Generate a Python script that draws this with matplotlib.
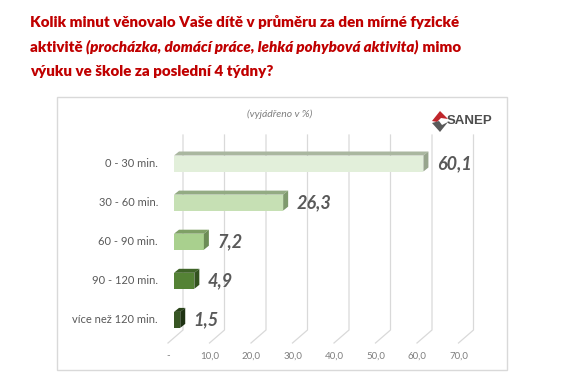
import numpy as np
import matplotlib.pyplot as plt
from matplotlib.patches import Rectangle, Polygon

# Data
categories = ["0 - 30 min.", "30 - 60 min.", "60 - 90 min.", "90 - 120 min.", "více než 120 min."]
values = [60.1, 26.3, 7.2, 4.9, 1.5]
value_labels = ["60,1", "26,3", "7,2", "4,9", "1,5"]
ticks = [0, 10, 20, 30, 40, 50, 60, 70]
tick_labels = ["-", "10,0", "20,0", "30,0", "40,0", "50,0", "60,0", "70,0"]

# Colours per bar: front, top, side
front_cols = ["#e2efda", "#c6e0b4", "#a9d08e", "#548235", "#375623"]
top_cols = ["#aab7a0", "#93ab83", "#7fa066", "#3f6428", "#2a4419"]
side_cols = ["#97a58d", "#7f9a6e", "#6c8c56", "#33531f", "#1f3313"]

W, H = 565, 386
fig = plt.figure(figsize=(W / 100, H / 100), dpi=100)
fig.patch.set_facecolor("white")
plt.rcParams['font.family'] = ['Lato', 'DejaVu Sans']

def fx(px):
    return px / W

def fy(py):
    return 1 - py / H

# Chart border
fig.add_artist(Rectangle((fx(57), fy(370)), fx(507) - fx(57), fy(97) - fy(370),
                         transform=fig.transFigure, fill=False, ec="#d9d9d9", lw=1))

# Title lines (mixed bold / bold italic)
red = "#c00000"
tsize = 10.9
renderer = fig.canvas.get_renderer()
title_rows = [
    [("Kolik minut věnovalo Vaše dítě v průměru za den mírné fyzické", "normal")],
    [("aktivitě ", "normal"), ("(procházka, domácí práce, lehká pohybová aktivita)", "italic"), (" mimo", "normal")],
    [("výuku ve škole za poslední 4 týdny?", "normal")],
]
row_y = [22, 47, 71]
for parts, py in zip(title_rows, row_y):
    x = fx(30)
    for txt, style in parts:
        t = fig.text(x, fy(py), txt, color=red, fontsize=tsize, fontweight="heavy",
                     fontstyle=style, va="center", ha="left")
        bb = t.get_window_extent(renderer)
        x += bb.width / W

# Subtitle
fig.text(fx(280), fy(114), "(vyjádřeno v %)", fontsize=7.5, fontstyle="italic",
         color="#7f7f7f", ha="center", va="center")

# Logo
fig.add_artist(Polygon([(fx(432), fy(121)), (fx(440), fy(111)), (fx(448), fy(119)),
                        (fx(441), fy(118)), (fx(437), fy(122))],
                       closed=True, transform=fig.transFigure, fc="#c0262c", ec="none"))
fig.add_artist(Polygon([(fx(432), fy(123)), (fx(439), fy(121)), (fx(442), fy(125)),
                        (fx(448), fy(122)), (fx(440), fy(132))],
                       closed=True, transform=fig.transFigure, fc="#5a5a5a", ec="none"))
fig.text(fx(447), fy(121), "SANEP", fontsize=9.5, fontweight="bold", color="#4d4d4d",
         ha="left", va="center", family=["Liberation Sans", "DejaVu Sans"])

# Plot axes: x in value units, y in category units (inverted)
px0, scale = 174, 4.15          # pixel of value 0 and px per unit
py0, step = 163.5, 39.1         # pixel of first category and px per category
ax_l, ax_r, ax_t, ax_b = 100, 500, 130, 365
ax = fig.add_axes([fx(ax_l), fy(ax_b), fx(ax_r) - fx(ax_l), fy(ax_t) - fy(ax_b)])
ax.set_xlim((ax_l - px0) / scale, (ax_r - px0) / scale)
ax.set_ylim((ax_b - py0) / step, (ax_t - py0) / step)
ax.axis("off")

# Gridlines with a slanted floor
g_off = 9 / scale
g_top = (135 - py0) / step
g_bot = (330 - py0) / step
f_bot = (343 - py0) / step
f_dx = -15 / scale
for v in ticks:
    xb = v + g_off
    ax.plot([xb, xb, xb + f_dx], [g_top, g_bot, f_bot], color="#d9d9d9", lw=0.9, zorder=1)

# Tick labels
tick_y = (356 - py0) / step
for v, lab in zip(ticks, tick_labels):
    ax.text(v + g_off + f_dx, tick_y, lab, fontsize=7, color="#7f7f7f",
            ha="center", va="center")

# 3D-like bars
h = 16 / step
dx = 5 / scale
dy = 4 / step
for i, (v, lab) in enumerate(zip(values, value_labels)):
    top = i - h / 2
    bot = i + h / 2
    ax.add_patch(Rectangle((0, top), v, h, fc=front_cols[i], ec="none", zorder=3))
    ax.add_patch(Polygon([(0, top), (dx, top - dy), (v + dx, top - dy), (v, top)],
                         closed=True, fc=top_cols[i], ec="none", zorder=3))
    ax.add_patch(Polygon([(v, top), (v + dx, top - dy), (v + dx, bot - dy), (v, bot)],
                         closed=True, fc=side_cols[i], ec="none", zorder=3))
    ax.text(v + dx + 2.0, i, lab, fontsize=13, fontweight="bold", fontstyle="italic",
            color="#595959", ha="left", va="center", zorder=4)
    ax.text((158 - px0) / scale, i, categories[i], fontsize=8, color="#595959",
            ha="right", va="center")

fig.savefig("out.png", dpi=100)
